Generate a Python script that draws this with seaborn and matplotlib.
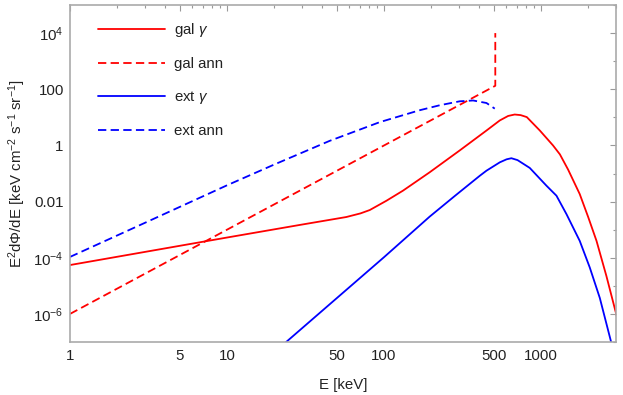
import numpy as np
import pandas as pd
import seaborn as sns
import matplotlib
matplotlib.use('Agg')
import matplotlib.pyplot as plt
from matplotlib.ticker import FixedLocator, FixedFormatter, NullFormatter

# Values (E in keV, E^2 dPhi/dE)
gal_gamma_E = [1, 10, 29.2, 57.5, 70.8, 81.1, 103.5, 132, 195, 303, 449, 546, 617, 679,
               741, 811, 982, 1191, 1318, 1486, 1762, 1995, 2254, 2606, 3090]
gal_gamma_F = [5.5e-5, 5.25e-4, 1.48e-3, 2.82e-3, 3.8e-3, 5.0e-3, 1.07e-2, 2.45e-2, 0.11,
               0.66, 3.39, 7.76, 11.2, 12.6, 12.0, 10.2, 3.39, 1.0, 0.48, 0.138, 1.86e-2,
               2.82e-3, 4.0e-4, 2.24e-5, 5.6e-7]

gal_ann_E = [1, 511, 511]
gal_ann_F = [1.0e-6, 1.33e2, 1.0e4]

ext_gamma_E = [20, 100, 195, 282, 407, 449, 546, 603, 647, 708, 847, 1081, 1253, 1452,
               1762, 2042, 2366, 2805, 2951]
ext_gamma_F = [4.3e-8, 1.05e-4, 2.9e-3, 1.58e-2, 8.3e-2, 0.126, 0.25, 0.32, 0.35, 0.30,
               0.158, 3.7e-2, 1.62e-2, 3.55e-3, 4.0e-4, 4.5e-5, 3.7e-6, 9.1e-8, 2.5e-8]

ext_ann_E = [1, 3.16, 10, 20, 45, 94, 168, 226, 303, 369, 449, 507]
ext_ann_F = [1.07e-4, 2.0e-3, 3.8e-2, 0.209, 1.45, 6.76, 17.8, 26.9, 37.2, 39.8, 32.4, 20.4]

x_major = [1, 5, 10, 50, 100, 500, 1000]
x_minor = [2, 3, 4, 6, 7, 8, 9, 20, 30, 40, 60, 70, 80, 90, 200, 300, 400, 600, 700, 800,
           900, 2000, 3000]
y_major = [1e-6, 1e-4, 1e-2, 1, 1e2, 1e4]
y_labels = ['$10^{-6}$', '$10^{-4}$', '0.01', '1', '100', '$10^{4}$']
y_minor = [1e-7, 1e-5, 1e-3, 1e-1, 1e1, 1e3, 1e5]

sns.set_style('white')
plt.rcParams['font.family'] = ['Liberation Sans', 'DejaVu Sans']
plt.rcParams['mathtext.fontset'] = 'custom'
plt.rcParams['mathtext.rm'] = 'Liberation Sans'
plt.rcParams['mathtext.it'] = 'Liberation Sans:italic'
plt.rcParams['mathtext.default'] = 'rm'

fs = 10.8
fig = plt.figure(figsize=(6.23, 3.95), dpi=100)
ax = fig.add_axes([70 / 623, 1 - 342 / 395, 546 / 623, 337 / 395])

series = [
    ('gal $\\mathit{\\gamma}$', gal_gamma_E, gal_gamma_F, '#ff0000', False),
    ('gal ann', gal_ann_E, gal_ann_F, '#ff0000', True),
    ('ext $\\mathit{\\gamma}$', ext_gamma_E, ext_gamma_F, '#0000ff', False),
    ('ext ann', ext_ann_E, ext_ann_F, '#0000ff', True),
]
for name, E, F, col, dashed in series:
    df = pd.DataFrame({'E': E, 'F': F})
    sns.lineplot(data=df, x='E', y='F', ax=ax, color=col, lw=1.3,
                 estimator=None, sort=False, label=name)
    if dashed:
        ax.lines[-1].set_dashes((4.6, 2.4))

ax.set_xscale('log')
ax.set_yscale('log')
ax.set_xlim(1, 3000)
ax.set_ylim(1e-7, 1e5)

ax.xaxis.set_major_locator(FixedLocator(x_major))
ax.xaxis.set_major_formatter(FixedFormatter([str(v) for v in x_major]))
ax.xaxis.set_minor_locator(FixedLocator(x_minor))
ax.xaxis.set_minor_formatter(NullFormatter())
ax.yaxis.set_major_locator(FixedLocator(y_major))
ax.yaxis.set_major_formatter(FixedFormatter(y_labels))
ax.yaxis.set_minor_locator(FixedLocator(y_minor))
ax.yaxis.set_minor_formatter(NullFormatter())

ax.tick_params(which='both', direction='in', top=True, right=True, color='#999999',
               labelsize=fs, labelcolor='#222222', width=0.8)
ax.tick_params(which='major', length=4.5)
ax.tick_params(which='minor', length=2.5)
ax.tick_params(axis='x', which='major', pad=5)
ax.tick_params(axis='y', which='major', pad=4.5)
for s in ax.spines.values():
    s.set_color('#aaaaaa')
    s.set_linewidth(1.2)

ax.set_xlabel('E [keV]', fontsize=fs, color='#222222', labelpad=11)
ax.set_ylabel('E$^{2}$dΦ/dE [keV cm$^{-2}$ s$^{-1}$ sr$^{-1}$]', fontsize=fs,
              color='#222222', labelpad=4)

leg = ax.legend(loc='upper left', bbox_to_anchor=(0.051, 0.953), frameon=False,
                borderaxespad=0, borderpad=0, handlelength=4.5, handletextpad=0.6,
                labelspacing=1.2, fontsize=fs)
for t in leg.get_texts():
    t.set_color('#222222')

fig.savefig('out.png', dpi=100)
